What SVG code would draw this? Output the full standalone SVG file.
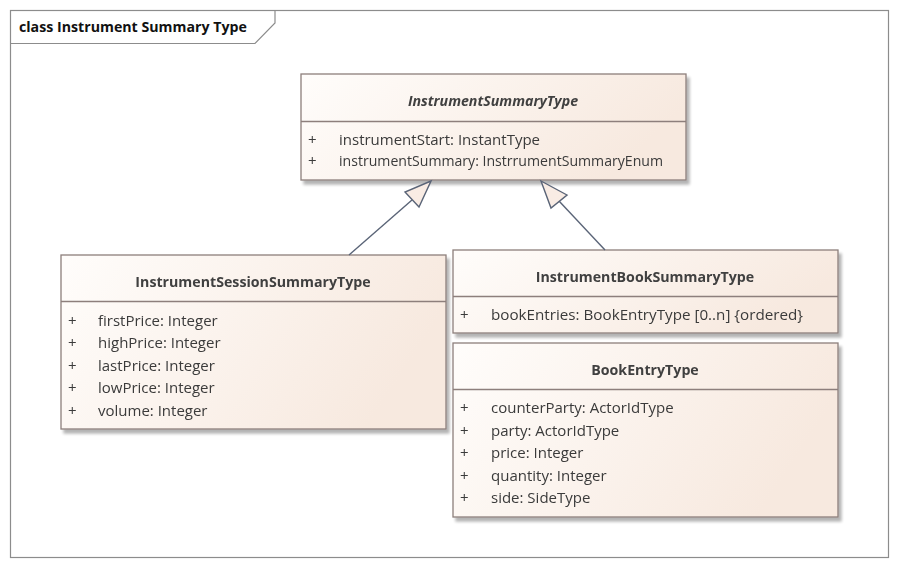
<svg xmlns="http://www.w3.org/2000/svg" width="899" height="569" viewBox="0 0 899 569">
<defs>
<linearGradient id="g" x1="0" y1="0" x2="1" y2="0.3">
<stop offset="0" stop-color="#fffdfb"/>
<stop offset="1" stop-color="#f7e9df"/>
</linearGradient>
<filter id="sh" x="-5%" y="-5%" width="115%" height="125%">
<feGaussianBlur in="SourceAlpha" stdDeviation="1.5"/>
<feOffset dx="3" dy="4"/>
<feComponentTransfer><feFuncA type="linear" slope="0.3"/></feComponentTransfer>
<feMerge><feMergeNode/><feMergeNode in="SourceGraphic"/></feMerge>
</filter>
<style>
.box{fill:url(#g);stroke:#8d7f7b;stroke-width:1.3}
.sep{stroke:#8d7f7b;stroke-width:1.3}
.t{font-family:"Open Sans","Noto Sans",sans-serif;font-size:15px;fill:#3a3a3a}
.h{font-weight:bold;text-anchor:middle;fill:#404040;font-size:14.2px}
.conn{stroke:#5a6477;stroke-width:1.4;fill:none}
.tri{fill:#f9ece4;stroke:#5a6477;stroke-width:1.4}
</style>
</defs>
<rect width="899" height="569" fill="#fff"/>
<g id="frame">
<rect x="10.5" y="10.5" width="878" height="547" fill="none" stroke="#8c8c8c" stroke-width="1.2"/>
<path d="M10.5 43.5 H255 L275 23 V10.5" fill="none" stroke="#8c8c8c" stroke-width="1.2"/>
<text x="19" y="32" class="t" style="font-weight:bold;fill:#111;font-size:14.2px">class Instrument Summary Type</text>
</g>
<g id="InstrumentSummaryType" filter="url(#sh)">
<rect class="box" x="301" y="74" width="385" height="106"/>
<line class="sep" x1="301" y1="121.5" x2="686" y2="121.5"/>
<text class="t h" x="493" y="106" font-style="italic">InstrumentSummaryType</text>
<text class="t" x="308" y="145">+</text><text class="t" x="339" y="145">instrumentStart: InstantType</text>
<text class="t" x="308" y="166">+</text><text class="t" x="339" y="166" textLength="324" lengthAdjust="spacingAndGlyphs">instrumentSummary: InstrrumentSummaryEnum</text>
</g>
<g id="InstrumentSessionSummaryType" filter="url(#sh)">
<rect class="box" x="61" y="255" width="385" height="174"/>
<line class="sep" x1="61" y1="301.5" x2="446" y2="301.5"/>
<text class="t h" x="253" y="287">InstrumentSessionSummaryType</text>
<text class="t" x="68" y="326">+</text><text class="t" x="98" y="326">firstPrice: Integer</text>
<text class="t" x="68" y="348">+</text><text class="t" x="98" y="348">highPrice: Integer</text>
<text class="t" x="68" y="370.5">+</text><text class="t" x="98" y="370.5">lastPrice: Integer</text>
<text class="t" x="68" y="393">+</text><text class="t" x="98" y="393">lowPrice: Integer</text>
<text class="t" x="68" y="415.5">+</text><text class="t" x="98" y="415.5">volume: Integer</text>
</g>
<g id="InstrumentBookSummaryType" filter="url(#sh)">
<rect class="box" x="453" y="250" width="385" height="83"/>
<line class="sep" x1="453" y1="296.5" x2="838" y2="296.5"/>
<text class="t h" x="645" y="282">InstrumentBookSummaryType</text>
<text class="t" x="460" y="320">+</text><text class="t" x="491" y="320" textLength="312" lengthAdjust="spacingAndGlyphs">bookEntries: BookEntryType [0..n] {ordered}</text>
</g>
<g id="BookEntryType" filter="url(#sh)">
<rect class="box" x="453" y="343" width="385" height="174"/>
<line class="sep" x1="453" y1="389.5" x2="838" y2="389.5"/>
<text class="t h" x="645" y="375">BookEntryType</text>
<text class="t" x="460" y="413">+</text><text class="t" x="491" y="413">counterParty: ActorIdType</text>
<text class="t" x="460" y="435.5">+</text><text class="t" x="491" y="435.5">party: ActorIdType</text>
<text class="t" x="460" y="458">+</text><text class="t" x="491" y="458">price: Integer</text>
<text class="t" x="460" y="480.5">+</text><text class="t" x="491" y="480.5">quantity: Integer</text>
<text class="t" x="460" y="503">+</text><text class="t" x="491" y="503">side: SideType</text>
</g>
<g id="connectors">
<line class="conn" x1="349" y1="255" x2="412" y2="200"/>
<polygon class="tri" points="431,181 405,192 419,207"/>
<line class="conn" x1="605" y1="250" x2="559" y2="201"/>
<polygon class="tri" points="541,181 567,195 551,208"/>
</g>
</svg>
